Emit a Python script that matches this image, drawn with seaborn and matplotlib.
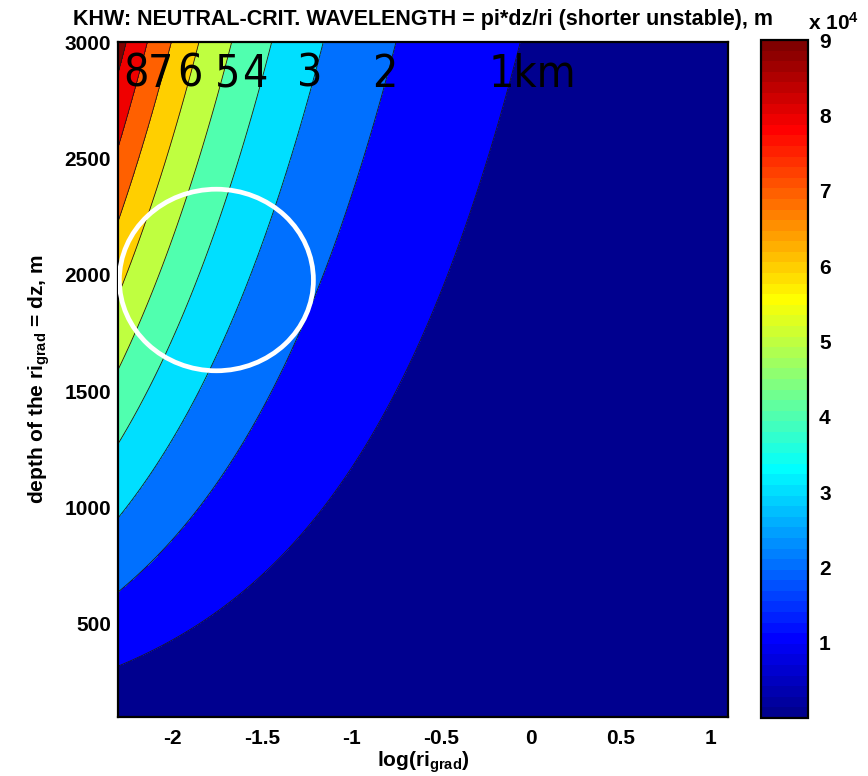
import numpy as np
import matplotlib
matplotlib.use("Agg")
import matplotlib.pyplot as plt
import seaborn as sns
from matplotlib.colors import ListedColormap, Normalize
from matplotlib.cm import ScalarMappable
from matplotlib.patches import Ellipse

# Range of the gradient Richardson number (x axis shows its natural log)
ri_range = [0.1, 3.0]
# Range of the layer depth dz, metres
dz_range = [100.0, 3000.0]

# Wavelength contour levels, metres (top level closes the last band)
levels = [0, 10000, 20000, 30000, 40000, 50000, 60000, 70000, 80000, 90000, 1.0e6]

# Hand-placed labels for the contour bands along the top edge
km_labels = ["8", "7", "6", "5", "4", "3", "2", "1km"]
km_label_x = [-2.273, -2.134, -1.972, -1.760, -1.609, -1.302, -0.884, -0.237]
km_label_y = 2807

# Highlighted region (centre in log(ri), dz; full width and height)
ring_center = [-1.754, 1977.5]
ring_size = [1.082, 780.0]

x_ticks = [-2, -1.5, -1, -0.5, 0, 0.5, 1]
x_ticklabels = ["-2", "-1.5", "-1", "-0.5", "0", "0.5", "1"]
y_ticks = [500, 1000, 1500, 2000, 2500, 3000]
cbar_ticks = [10000, 20000, 30000, 40000, 50000, 60000, 70000, 80000, 90000]
cbar_ticklabels = ["1", "2", "3", "4", "5", "6", "7", "8", "9"]

title = "KHW: NEUTRAL-CRIT. WAVELENGTH = pi*dz/ri (shorter unstable), m"

# 64-step jet colour table
pos = np.arange(1, 65) / 64.0
jet64 = np.stack([np.clip(1.5 - np.abs(4 * pos - 3), 0, 1),
                  np.clip(1.5 - np.abs(4 * pos - 2), 0, 1),
                  np.clip(1.5 - np.abs(4 * pos - 1), 0, 1)], axis=1)
band_rows = [0, 7, 14, 21, 28, 35, 42, 49, 56, 63]
band_colors = [tuple(jet64[i]) for i in band_rows]

# Wavelength field lambda = pi * dz / ri on a regular grid
ln_ri = np.linspace(np.log(ri_range[0]), np.log(ri_range[1]), 241)
dz = np.linspace(dz_range[0], dz_range[1], 241)
wavelength = np.pi * dz[:, None] / np.exp(ln_ri)[None, :]

sns.set_theme(style="ticks")
plt.rcParams["font.family"] = ["Liberation Sans", "DejaVu Sans"]
plt.rcParams["mathtext.fontset"] = "custom"
plt.rcParams["mathtext.rm"] = "Liberation Sans:bold"
plt.rcParams["mathtext.it"] = "Liberation Sans:bold"
plt.rcParams["text.color"] = "black"
plt.rcParams["axes.labelcolor"] = "black"
plt.rcParams["axes.titlecolor"] = "black"
plt.rcParams["xtick.color"] = "black"
plt.rcParams["ytick.color"] = "black"

W, H = 868, 776
fig = plt.figure(figsize=(W / 100, H / 100), dpi=100)
ax = fig.add_axes([118 / W, 1 - 717 / H, (728 - 118) / W, (717 - 42) / H])

ax.contourf(ln_ri, dz, wavelength, levels=levels, colors=band_colors)
ax.contour(ln_ri, dz, wavelength, levels=levels[1:-1], colors="k", linewidths=0.6)

ax.add_patch(Ellipse(ring_center, ring_size[0], ring_size[1], fill=False,
                     ec="white", lw=3.4, zorder=5))

for txt, xv in zip(km_labels, km_label_x):
    ax.text(xv, km_label_y, txt, fontsize=32, family="DejaVu Sans",
            fontstretch="condensed", ha="left", va="baseline",
            color="black", zorder=6)

ax.set_xlim(np.log(ri_range[0]), np.log(ri_range[1]))
ax.set_ylim(dz_range[0], dz_range[1])
ax.set_xticks(x_ticks)
ax.set_xticklabels(x_ticklabels)
ax.set_yticks(y_ticks)
ax.tick_params(direction="in", top=True, right=True, length=6, width=1.2,
               labelsize=15, pad=5, colors="black")
ax.tick_params(axis="x", pad=9)
for lab in ax.get_xticklabels() + ax.get_yticklabels():
    lab.set_fontweight("bold")
for sp in ax.spines.values():
    sp.set_linewidth(1.6)
    sp.set_color("black")

ax.set_title(title, fontsize=15.5, fontweight="bold", pad=12, color="black")
ax.set_xlabel(r"log(ri$_{\mathregular{grad}}$)", fontsize=15, fontweight="bold",
              labelpad=1, color="black")
ax.set_ylabel(r"depth of the ri$_{\mathregular{grad}}$ = dz, m", fontsize=15,
              fontweight="bold", labelpad=9, color="black")

cax = fig.add_axes([761 / W, 1 - 718 / H, (808 - 761) / W, (718 - 40) / H])
sm = ScalarMappable(norm=Normalize(0, 90000), cmap=ListedColormap(jet64))
cb = fig.colorbar(sm, cax=cax, ticks=cbar_ticks)
cb.set_ticklabels(cbar_ticklabels)
cax.tick_params(direction="in", left=True, right=True, length=6, width=1.2,
                labelsize=15, pad=8, colors="black")
for lab in cax.get_yticklabels():
    lab.set_fontweight("bold")
cb.outline.set_linewidth(1.6)
cb.outline.set_edgecolor("black")
fig.text(808 / W, 1 - 30 / H, r"x 10$^{\mathregular{4}}$", fontsize=15,
         fontweight="bold", ha="left", va="baseline", color="black")

fig.savefig("out.png", dpi=100)
